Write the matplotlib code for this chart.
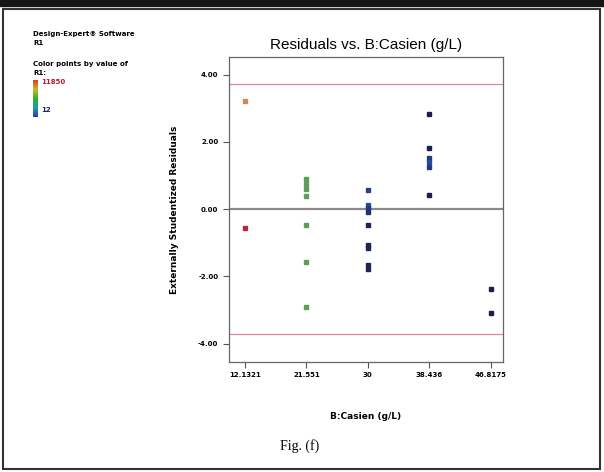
import numpy as np
import matplotlib.pyplot as plt
from matplotlib.patches import Rectangle
from matplotlib.colors import LinearSegmentedColormap

# casein levels (g/L), shown as evenly spaced categories
levels = ["12.1321", "21.551", "30", "38.436", "46.8175"]

# externally studentized residuals per level, with colour for each run
res_12 = [3.21, -0.57]
col_12 = ["#d9874a", "#b8283a"]
res_21 = [0.88, 0.75, 0.60, 0.39, -0.46, -1.58, -2.92]
col_21 = ["#5e9e5a"] * 7
res_30 = [0.57, 0.12, 0.03, -0.08, -0.48, -1.07, -1.16, -1.67, -1.79]
col_30 = ["#2a3f8a", "#2c4a9a", "#223a80", "#1f2f6e", "#1c2458",
          "#1c2458", "#1c2458", "#1c2458", "#1c2458"]
res_38 = [2.83, 1.82, 1.52, 1.40, 1.24, 0.42]
col_38 = ["#1a1f4a", "#1a1f4a", "#213a80", "#2a4a9a", "#213a80", "#1a1f4a"]
res_46 = [-2.38, -3.10]
col_46 = ["#1c2050", "#1c2050"]

limit = 3.72   # outlier limits

fig = plt.figure(figsize=(6.04, 4.72), dpi=100)
fig.patch.set_facecolor("white")

# page frame and dark strip along the top
fig.add_artist(Rectangle((0, 1 - 6 / 472), 1, 6 / 472, transform=fig.transFigure,
                         color="#151515", zorder=0))
fig.add_artist(Rectangle((3 / 604, 3 / 472), 597 / 604, 460 / 472, transform=fig.transFigure,
                         fill=False, ec="#333333", lw=1.5))

ax = fig.add_axes([0.379, 0.233, 0.454, 0.646])

groups = [res_12, res_21, res_30, res_38, res_46]
colors = [col_12, col_21, col_30, col_38, col_46]
for i, (vals, cols) in enumerate(zip(groups, colors)):
    for v, c in zip(vals, cols):
        ax.plot(i, v, "s", ms=3.1, color=c, mec=c, zorder=3)

ax.axhline(0, color="#8a8a8a", lw=1.6, zorder=2)
ax.axhline(limit, color="#d98c94", lw=0.9, zorder=2)
ax.axhline(-limit, color="#d98c94", lw=0.9, zorder=2)

ax.set_xlim(-0.26, 4.2)
ax.set_ylim(-4.55, 4.52)
ax.set_xticks(range(len(levels)))
ax.set_xticklabels(levels)
ax.set_yticks([-4, -2, 0, 2, 4])
ax.set_yticklabels(["-4.00", "-2.00", "0.00", "2.00", "4.00"])
ax.tick_params(labelsize=5, length=4, width=0.8, colors="#555555", labelcolor="black")
for lab in ax.get_xticklabels() + ax.get_yticklabels():
    lab.set_fontweight("bold")
for s in ax.spines.values():
    s.set_color("#666666")
    s.set_linewidth(0.9)

ax.set_title("Residuals vs. B:Casien (g/L)", fontsize=11, family="Liberation Sans", pad=6)
ax.set_xlabel("B:Casien (g/L)", fontsize=6.5, fontweight="bold", labelpad=24)
ax.set_ylabel("Externally Studentized Residuals", fontsize=6.5, fontweight="bold", labelpad=14)

# colour key on the left
fig.text(33 / 604, 1 - 36 / 472, "Design-Expert\u00ae Software", fontsize=5, fontweight="bold")
fig.text(33 / 604, 1 - 45 / 472, "R1", fontsize=5, fontweight="bold")
fig.text(33 / 604, 1 - 66 / 472, "Color points by value of", fontsize=5, fontweight="bold")
fig.text(33 / 604, 1 - 75 / 472, "R1:", fontsize=5, fontweight="bold")
cmap = LinearSegmentedColormap.from_list("key", ["#2040c0", "#20a0a0", "#30b030", "#c0c020", "#e04020"])
kax = fig.add_axes([33 / 604, 1 - 117 / 472, 5 / 604, 37 / 472])
kax.imshow(np.linspace(1, 0, 50).reshape(-1, 1), aspect="auto", cmap=cmap)
kax.axis("off")
fig.text(41 / 604, 1 - 84 / 472, "11850", fontsize=5, fontweight="bold", color="#b02030")
fig.text(41 / 604, 1 - 112 / 472, "12", fontsize=5, fontweight="bold", color="#1c2458")

fig.text(300 / 604, 1 - 446 / 472, "Fig. (f)", fontsize=10, family="Liberation Serif",
         ha="center", va="center")

fig.savefig("out.png", dpi=100)
